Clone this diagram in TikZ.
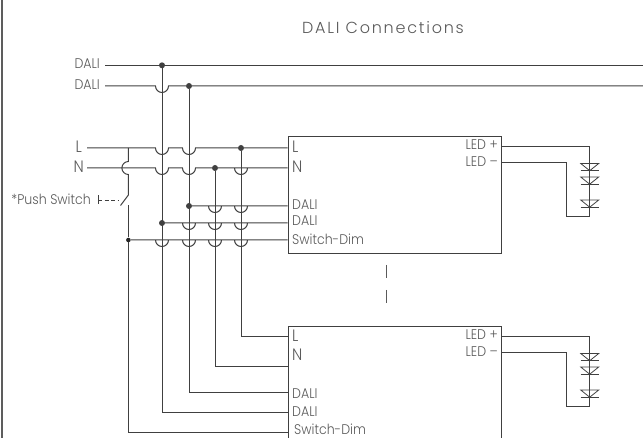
\documentclass[tikz,border=0pt]{standalone}
\usepackage{fontspec}
\setmainfont{Poppins}[UprightFont=* Light]
\newfontfamily\titlefont{Poppins}[UprightFont=* Light,LetterSpace=11]
\newfontfamily\labfont{Poppins}[UprightFont=* Light,FakeStretch=0.9]
\definecolor{wirec}{HTML}{404040}
\definecolor{textc}{HTML}{5A5A5A}
\tikzset{
  wire/.style={draw=wirec,line width=1pt,line join=miter},
  frameline/.style={draw=wirec!85,line width=1.7pt},
  ecubox/.style={draw=wirec,line width=1pt,rectangle,inner sep=0pt,minimum width=213.5pt,anchor=north west},
  lab/.style={text=textc,inner sep=0pt,font=\labfont\fontsize{14}{14}\selectfont},
  labr/.style={lab,anchor=east},
  labl/.style={lab,anchor=west},
  bigr/.style={labr,font=\labfont\fontsize{16.5}{16}\selectfont},
  bigl/.style={labl,font=\labfont\fontsize{16.5}{16}\selectfont},
  dot/.style={circle,fill=wirec,inner sep=0pt,minimum size=6pt},
  smalldot/.style={circle,fill=black!85,inner sep=0pt,minimum size=4.6pt},
  diodeline/.style={draw=wirec,line width=0.8pt}
}
\newcommand{\hoprad}{6.5pt}
\begin{document}
\begin{tikzpicture}[x=1pt,y=-1pt]
\useasboundingbox (0,0) rectangle (643,438);
\clip (0,0) rectangle (643,438);
\draw[frameline] (2,0) -- (2,438);
\node[text=textc,inner sep=0pt,font=\titlefont\fontsize{16}{16}\selectfont] (title) at (383,28) {DALI Connections};
% boxes
\node[ecubox,minimum height=117pt] (boxA) at (287.5,136) {};
\node[ecubox,minimum height=130pt] (boxB) at (287.5,326) {};
% left labels
\node[labr] (tDa) at (100,64) {DALI};
\node[labr] (tDb) at (100,85) {DALI};
\node[bigr] (tL) at (82,147) {L};
\node[bigr] (tN) at (84,167) {N};
\node[labr] (tPS) at (91,199) {*Push Switch};
% box A labels
\node[bigl] at (292,147) {L};
\node[bigl] at (292,167) {N};
\node[labl] at (292,205) {DALI};
\node[labl] at (292,221) {DALI};
\node[labl] at (292,239) {Switch-Dim};
\node[labr] at (498,144.5) {LED +};
\node[labr] at (498,161.5) {LED –};
% box B labels
\node[bigl] at (292,336) {L};
\node[bigl] at (292,355) {N};
\node[labl] at (292,394) {DALI};
\node[labl] at (292,412) {DALI};
\node[labl] at (294,429.5) {Switch-Dim};
\node[labr] at (498,334.5) {LED +};
\node[labr] at (498,351.5) {LED –};
% terminals
\coordinate (aL) at (287.5,148); \coordinate (aN) at (287.5,168);
\coordinate (aDa) at (287.5,206); \coordinate (aDb) at (287.5,223); \coordinate (aS) at (287.5,240);
\coordinate (bL) at (287.5,337); \coordinate (bN) at (287.5,367);
\coordinate (bDa) at (287.5,393); \coordinate (bDb) at (287.5,413); \coordinate (bS) at (287.5,432);
\coordinate (endA) at (643,65.3); \coordinate (endB) at (643,86);
% junctions
\node[dot] (j1) at (162,65.3) {};
\node[dot] (j2) at (189,86) {};
\node[dot] (j3) at (241,148) {};
\node[dot] (j4) at (215,168) {};
\node[dot] (j5) at (189,206) {};
\node[dot] (j6) at (162,223) {};
\node[smalldot] (j7) at (128.4,240) {};
% horizontals
\draw[wire] (105,65.3) -- (j1) -- (endA);
\draw[wire] (105,86) foreach \x in {162} {-- (\x-6.5,86) arc[start angle=180,end angle=360,radius=\hoprad]} -- (j2) -- (endB);
\draw[wire] (87,148) foreach \x in {162,189} {-- (\x-6.5,148) arc[start angle=180,end angle=360,radius=\hoprad]} -- (j3) -- (aL);
\draw[wire] (87,168) -- (122,168) foreach \x in {162,189} {-- (\x-6.5,168) arc[start angle=180,end angle=360,radius=\hoprad]} -- (j4) foreach \x in {241} {-- (\x-6.5,168) arc[start angle=180,end angle=360,radius=\hoprad]} -- (aN);
\draw[wire] (j5) foreach \x in {215,241} {-- (\x-6.5,206) arc[start angle=180,end angle=360,radius=\hoprad]} -- (aDa);
\draw[wire] (j6) foreach \x in {189,215,241} {-- (\x-6.5,223) arc[start angle=180,end angle=360,radius=\hoprad]} -- (aDb);
\draw[wire] (j7) foreach \x in {162,189,215,241} {-- (\x-6.5,240) arc[start angle=180,end angle=360,radius=\hoprad]} -- (aS);
% verticals
\draw[wire] (j1) -- (162,413) -- (bDb);
\draw[wire] (j2) -- (189,393) -- (bDa);
\draw[wire] (j4) -- (215,367) -- (bN);
\draw[wire] (j3) -- (241,337) -- (bL);
% switch
\draw[wire] (128.4,148) -- (128.4,161.5) arc[start angle=90,end angle=270,radius=\hoprad] -- (128.4,195) -- (120.5,205.5);
\draw[wire] (128.4,205.5) -- (j7) -- (128.4,432) -- (bS);
\draw[wire,line width=0.8pt] (98,195.5) -- (98,204.5);
\draw[wire,line width=0.8pt,dash pattern=on 4pt off 2.5pt] (98,200) -- (119,200);
% dashes between boxes
\draw[wire,draw=textc] (386,265) -- (386,278);
\draw[wire,draw=textc] (386,290) -- (386,303);
% LED outputs
\foreach \o/\n in {0/A,190/B}{
  \coordinate (lp\n) at (501,146.3+\o);
  \coordinate (lm\n) at (501,162.7+\o);
  \draw[wire] (lp\n) -- (589.7,146.3+\o) -- (589.7,217+\o) -- (566.7,217+\o) -- (566.7,162.7+\o) -- (lm\n);
  \foreach \t in {163.5,177,200}{
    \draw[diodeline] (580.7,\t+\o) -- (598.7,\t+\o) -- (589.7,\t+\o+7.2) -- cycle;
    \draw[diodeline] (580.7,\t+\o+7.2) -- (598.7,\t+\o+7.2);
  }
}
\end{tikzpicture}
\end{document}
